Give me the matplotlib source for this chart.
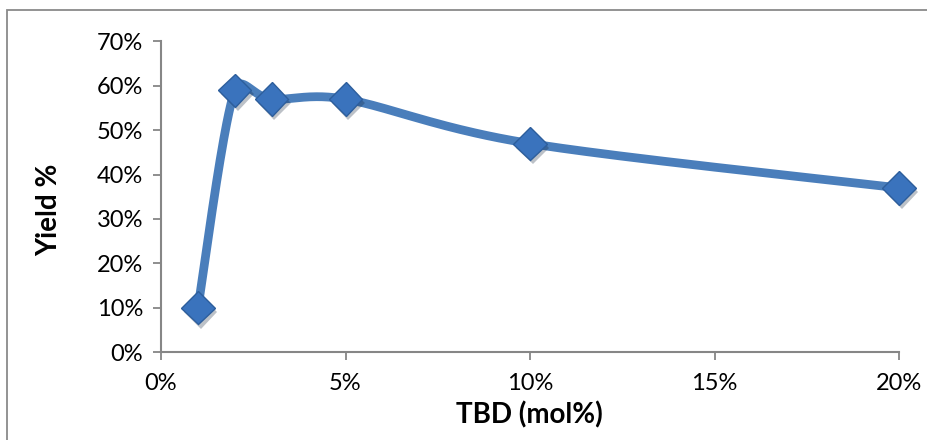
import numpy as np
import matplotlib
matplotlib.use("Agg")
import matplotlib.pyplot as plt
import matplotlib.patheffects as pe
from matplotlib.ticker import FuncFormatter
from matplotlib.patches import Rectangle

# data
tbd = [0.01, 0.02, 0.03, 0.05, 0.10, 0.20]
yield_pct = [0.10, 0.59, 0.57, 0.57, 0.47, 0.37]
x_ticks = [0, 0.05, 0.10, 0.15, 0.20]
y_ticks = [0, 0.1, 0.2, 0.3, 0.4, 0.5, 0.6, 0.7]

plt.rcParams['font.family'] = ['Lato', 'DejaVu Sans']

W, H = 927, 440
fig = plt.figure(figsize=(W / 100, H / 100), dpi=100)
fig.patch.set_facecolor('white')
ax = fig.add_axes([161 / W, 88 / H, 738 / W, 310.5 / H])
ax.set_xlim(0, 0.2)
ax.set_ylim(0, 0.7)


def smooth(xs, ys, n=60):
    # excel-like smoothed line: bezier segments built in screen space,
    # control arms limited to half of the segment length
    pts = ax.transData.transform(np.column_stack([xs, ys]))
    p = np.vstack([pts[0], pts, pts[-1]])
    segs = []
    t = np.linspace(0, 1, n)[:, None]
    for i in range(1, len(p) - 2):
        p0, p1, p2, p3 = p[i - 1], p[i], p[i + 1], p[i + 2]
        seg_len = np.hypot(*(p2 - p1))
        a1 = (p2 - p0) / 6
        a2 = (p3 - p1) / 6
        for a in (a1, a2):
            la = np.hypot(*a)
            if la > 0.5 * seg_len:
                a *= 0.5 * seg_len / la
        c1 = p1 + a1
        c2 = p2 - a2
        segs.append((1 - t) ** 3 * p1 + 3 * (1 - t) ** 2 * t * c1
                    + 3 * (1 - t) * t ** 2 * c2 + t ** 3 * p2)
    return ax.transData.inverted().transform(np.vstack(segs))


curve = smooth(tbd, yield_pct)
ax.plot(curve[:, 0], curve[:, 1], color='#4A7EBB', lw=6.3,
        solid_capstyle='round', solid_joinstyle='round', zorder=2)
ax.plot(tbd, yield_pct, ls='none', marker='D', ms=17,
        mfc='#3A73BD', mec='#2D5E9C', mew=1, zorder=3, clip_on=False,
        path_effects=[pe.SimplePatchShadow(offset=(2, -3), alpha=0.28),
                      pe.Normal()])

for s in ['top', 'right']:
    ax.spines[s].set_visible(False)
for s in ['left', 'bottom']:
    ax.spines[s].set_color('#868686')
    ax.spines[s].set_linewidth(1.5)

ax.set_xticks(x_ticks)
ax.set_yticks(y_ticks)
pct = FuncFormatter(lambda v, _: '{:.0f}%'.format(v * 100))
ax.xaxis.set_major_formatter(pct)
ax.yaxis.set_major_formatter(pct)
ax.tick_params(direction='out', length=6, width=1.3, color='#868686',
               labelsize=17, labelcolor='black')
ax.tick_params(axis='y', pad=7)
ax.tick_params(axis='x', pad=9)

fig.text(49 / W, 1 - 210 / H, 'Yield %', rotation=90, fontsize=20,
         fontweight='bold', ha='center', va='center')
fig.text(529 / W, 1 - 415 / H, 'TBD (mol%)', fontsize=20,
         fontweight='bold', ha='center', va='center')

# outer chart frame (cut off at right and bottom)
fig.add_artist(Rectangle((7 / W, -0.1), 1.0, (H - 10) / H + 0.1,
                         transform=fig.transFigure, fill=False,
                         edgecolor='#8a8a8a', lw=1.3))

fig.savefig('out.png', dpi=100)
